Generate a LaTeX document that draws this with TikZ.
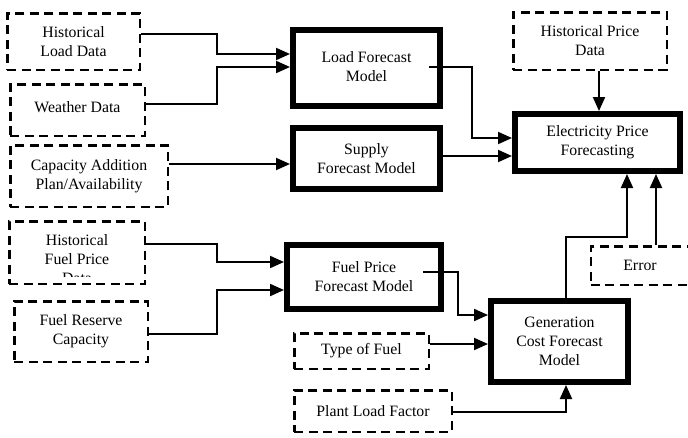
\documentclass[tikz,border=0pt]{standalone}
\usepackage{fontspec}
\setmainfont{Liberation Serif}
\usetikzlibrary{arrows.meta}
\tikzset{
  dbox/.style={draw, dash pattern=on 9pt off 5.5pt, line width=2.5pt, fill=white, align=center, inner sep=0pt},
  tbox/.style={draw, line width=6pt, fill=white, align=center, inner sep=0pt},
  conn/.style={line width=2pt},
  arr/.style={conn, -{Triangle[length=14pt,width=12pt]}},
}
\newcommand{\raisedlines}[2]{\raisebox{#1}{\begin{tabular}{@{}c@{}}#2\end{tabular}}}
\begin{document}
\begin{tikzpicture}[x=1pt,y=-1pt,font=\fontsize{15.8}{19}\selectfont]
\useasboundingbox (0,0) rectangle (688,437);
% dashed input boxes
\node[dbox, minimum width=132.5pt, minimum height=56.5pt] (hld) at (73.5,41.5) {Historical\\Load Data};
\node[dbox, minimum width=134.5pt, minimum height=51.5pt] (wd) at (77.5,110) {\raisebox{5pt}{Weather Data}};
\node[dbox, minimum width=157.5pt, minimum height=61.5pt] (cap) at (89,176) {\raisedlines{3pt}{Capacity Addition\\Plan/Availability}};
\node[dbox, minimum width=135.5pt, minimum height=62.5pt] (hfp) at (77,252.5) {};
\begin{scope}
\clip (10,222) rectangle (144,276);
\node[align=center, inner sep=0pt] (hfptxt) at (77,259) {Historical\\Fuel Price\\Data};
\end{scope}
\node[dbox, minimum width=133.5pt, minimum height=60.5pt] (frc) at (81,331.5) {Fuel Reserve\\Capacity};
\node[dbox, minimum width=134.5pt, minimum height=35.5pt] (tof) at (361.5,351) {Type of Fuel};
\node[dbox, minimum width=157.5pt, minimum height=41.5pt] (plf) at (373,411) {Plant Load Factor};
\node[dbox, minimum width=153.5pt, minimum height=57.5pt] (hpd) at (590,41) {Historical Price\\Data};
\node[dbox, minimum width=98.5pt, minimum height=38.5pt] (err) at (640,265.5) {Error};
% thick model boxes
\node[tbox, minimum width=147pt, minimum height=76pt] (lfm) at (366.5,68) {\raisedlines{6pt}{Load Forecast\\Model}};
\node[tbox, minimum width=147pt, minimum height=61pt] (sfm) at (366.5,158.5) {Supply\\Forecast Model};
\node[tbox, minimum width=154pt, minimum height=64pt] (fpm) at (364,277) {Fuel Price\\Forecast Model};
\node[tbox, minimum width=165pt, minimum height=57pt] (epf) at (597.5,142.5) {Electricity Price\\Forecasting};
\node[tbox, minimum width=137pt, minimum height=81pt] (gcm) at (559.5,341.5) {Generation\\Cost Forecast\\Model};
% junction coordinates
\coordinate (j1) at (217,54);
\coordinate (j2) at (217,67);
\coordinate (j3) at (472,138);
\coordinate (j4) at (217,262);
\coordinate (j5) at (217,290);
\coordinate (j6) at (458,315);
\coordinate (j7) at (627,237);
\coordinate (s1) at (429,67);
\coordinate (s2) at (423,272);
% connectors
\draw[arr] ([yshift=7.5pt]hld.east) -| (j1) -- (lfm.west |- j1);
\draw[arr] ([yshift=6pt]wd.east) -| (j2) -- (lfm.west |- j2);
\draw[arr] ([yshift=12pt]cap.east) -- (sfm.west |- {(0,164)});
\draw[arr] (s1) -| (j3) -- (epf.west |- j3);
\draw[arr] ([yshift=2.5pt]sfm.east) -- (epf.west |- {(0,156)});
\draw[arr] (hpd.south -| {(599,0)}) -- (epf.north -| {(599,0)});
\draw[arr] (gcm.north -| {(566,0)}) |- (j7) -- (epf.south -| j7);
\draw[arr] (err.north -| {(656,0)}) -- (epf.south -| {(656,0)});
\draw[arr] ([yshift=8.5pt]hfp.east) -| (j4) -- (fpm.west |- j4);
\draw[arr] ([yshift=-2.5pt]frc.east) -| (j5) -- (fpm.west |- j5);
\draw[arr] (s2) -| (j6) -- (gcm.west |- j6);
\draw[arr] ([yshift=7pt]tof.east) -- (gcm.west |- {(0,344)});
\draw[arr] ([yshift=-1pt]plf.east) -| (gcm.south -| {(566,0)});
\end{tikzpicture}
\end{document}
